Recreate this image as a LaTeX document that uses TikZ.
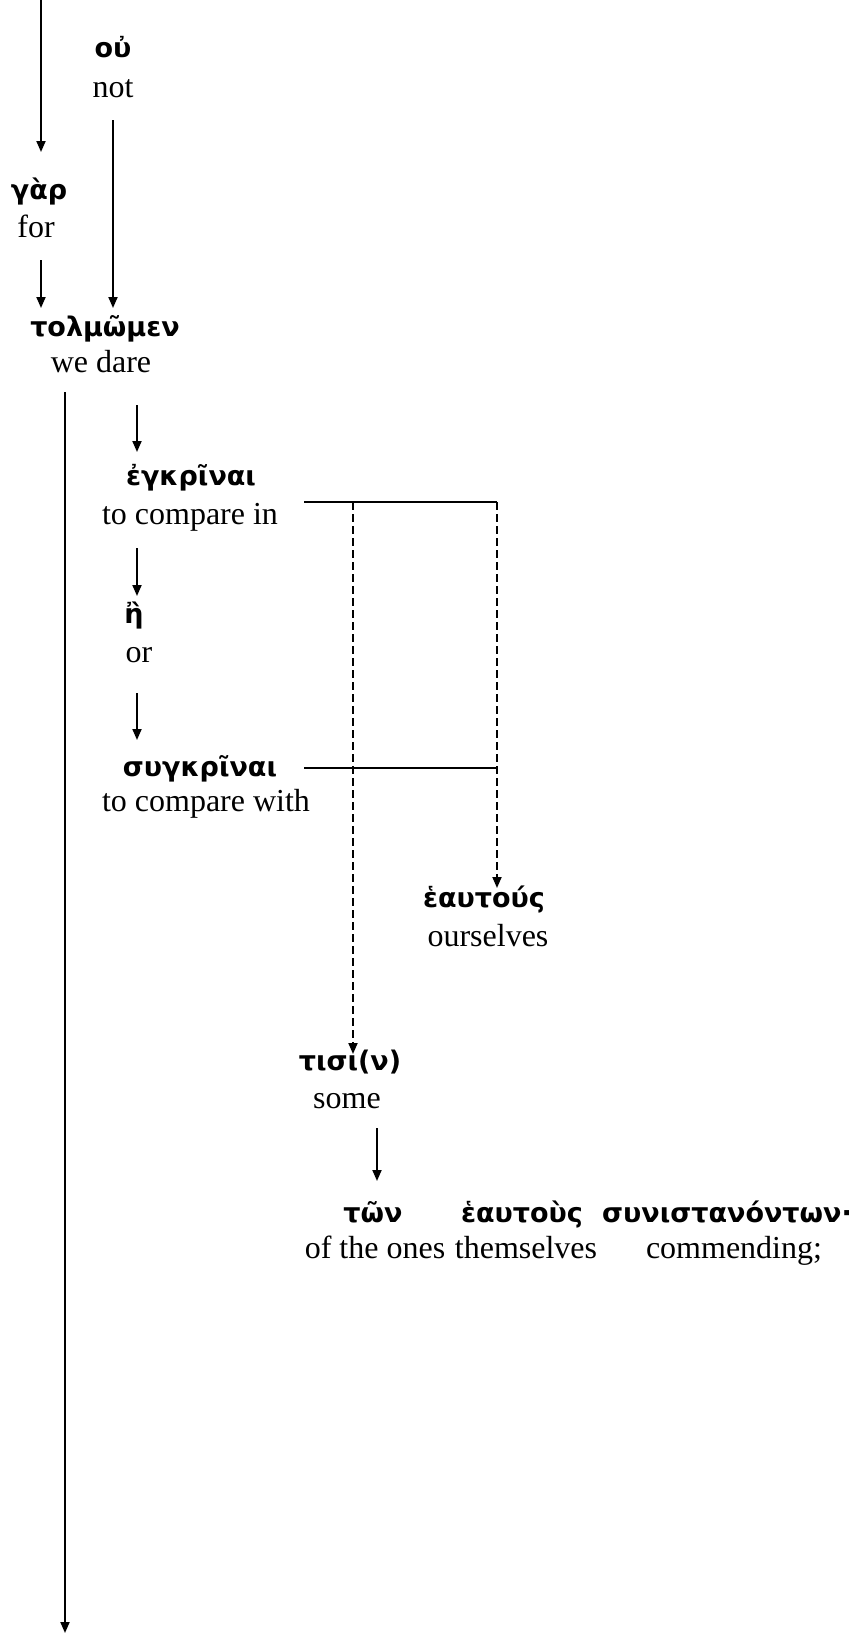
\documentclass[tikz,border=0pt]{standalone}
\usepackage{fontspec}
\setmainfont{Liberation Serif}
\newfontfamily\grk{DejaVu Sans}
\usetikzlibrary{arrows.meta}
\tikzset{
  gk/.style={anchor=base, inner sep=0pt, font=\grk\bfseries\fontsize{13.5}{15}\selectfont},
  en/.style={anchor=base, inner sep=0pt, font=\fontsize{16}{19}\selectfont},
  arr/.style={line width=0.9pt, -{Triangle[length=5.5pt,width=4.5pt]}},
  solidln/.style={line width=0.9pt},
  dsh/.style={line width=0.9pt, dash pattern=on 4pt off 2pt, -{Triangle[length=5.5pt,width=4.5pt]}}
}
\begin{document}
\begin{tikzpicture}[x=0.5pt,y=-0.5pt]
\useasboundingbox (0,0) rectangle (857,1635);
% words
\node[gk] (ou) at (113,57) {οὐ};
\node[en] (oue) at (113,97) {not};
\node[gk] (gar) at (39,199) {γὰρ};
\node[en] (gare) at (36,237) {for};
\node[gk] (tolm) at (105,336) {τολμῶμεν};
\node[en] (tolme) at (101,372) {we dare};
\node[gk] (egkr) at (191,485) {ἐγκρῖναι};
\node[en] (egkre) at (190,524) {to compare in};
\node[gk] (ee) at (134,623) {ἢ};
\node[en] (eee) at (139,662) {or};
\node[gk] (sygk) at (200,776) {συγκρῖναι};
\node[en] (sygke) at (206,811) {to compare with};
\node[gk] (heau) at (484,907) {ἑαυτούς};
\node[en] (heaue) at (488,946) {ourselves};
\node[gk] (tisi) at (350,1070) {τισι(ν)};
\node[en] (tisie) at (347,1108) {some};
\node[gk] (twn) at (373,1222) {τῶν};
\node[en] (twne) at (375,1258) {of the ones};
\node[gk] (heaus) at (522,1222) {ἑαυτοὺς};
\node[en] (heause) at (526,1258) {themselves};
\node[gk] (syn) at (727,1222) {συνιστανόντων·};
\node[en] (syne) at (734,1258) {commending;};
% connector ends
\coordinate (top) at (41,0);
\coordinate (garT) at (41,152);
\coordinate (garB) at (41,260);
\coordinate (tolT1) at (41,308);
\coordinate (ouB) at (113,120);
\coordinate (tolT2) at (113,308);
\coordinate (tolB) at (65,392);
\coordinate (bottom) at (65,1633);
\coordinate (tolB2) at (137,405);
\coordinate (egkT) at (137,452);
\coordinate (egkB) at (137,548);
\coordinate (eeT) at (137,596);
\coordinate (eeB) at (137,693);
\coordinate (sygT) at (137,740);
\coordinate (egkR) at (304,502);
\coordinate (jA) at (353,502);
\coordinate (jB) at (497,502);
\coordinate (sygR) at (304,768);
\coordinate (jC) at (497,768);
\coordinate (heauT) at (497,888);
\coordinate (tisiT) at (353,1054);
\coordinate (tisiB) at (377,1128);
\coordinate (twnT) at (377,1181);
% connectors
\draw[arr] (top) -- (garT);
\draw[arr] (garB) -- (tolT1);
\draw[arr] (ouB) -- (tolT2);
\draw[arr] (tolB) -- (bottom);
\draw[arr] (tolB2) -- (egkT);
\draw[arr] (egkB) -- (eeT);
\draw[arr] (eeB) -- (sygT);
\draw[solidln] (egkR) -- (jB);
\draw[solidln] (sygR) -- (jC);
\draw[dsh] (jA) -- (tisiT);
\draw[dsh] (jB) -- (heauT);
\draw[arr] (tisiB) -- (twnT);
\end{tikzpicture}
\end{document}
